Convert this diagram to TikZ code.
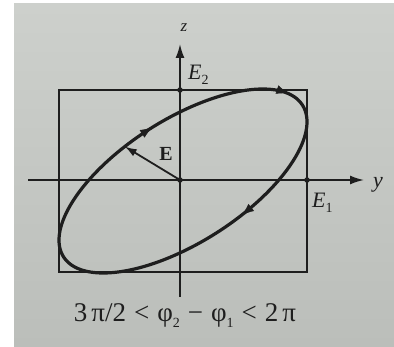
\documentclass[tikz,border=0pt]{standalone}
\usepackage{fontspec}
\setmainfont{Liberation Serif}
\usetikzlibrary{arrows.meta,calc}
\definecolor{inkc}{HTML}{1E1E1E}
\definecolor{bgtop}{HTML}{CDD0CC}
\definecolor{bgbot}{HTML}{BBBEBA}
\newcommand{\mysub}[1]{\raisebox{-0.45ex}{\fontsize{14}{14}\selectfont\upshape #1}}
\newcommand{\gap}{\hspace{8pt}}
\begin{document}
\begin{tikzpicture}[x=1pt,y=-1pt,
  axis/.style={inkc, line width=1.7pt, -{Latex[length=14pt,width=9pt]}},
  box/.style={inkc, line width=1.9pt},
  curve/.style={inkc, line width=3.2pt},
  tipmark/.style={inkc, line width=0.5pt, -{Latex[length=12pt,width=9pt]}},
  vec/.style={inkc, line width=1.8pt, -{Latex[length=12pt,width=8pt]}},
  lab/.style={text=inkc, inner sep=0pt, font=\fontsize{22}{24}\selectfont\itshape},
  dotm/.style={circle, fill=inkc, inner sep=0pt, minimum size=5.5pt}]
\useasboundingbox (0,0) rectangle (394,347);
\shade[top color=bgtop, bottom color=bgbot] (14,4) rectangle (394,347);
% axes
\coordinate (O) at (180,180);
\coordinate (yL) at (28,180);
\coordinate (yR) at (364,180);
\coordinate (zB) at (180,297);
\coordinate (zT) at (180,44);
\draw[axis] (yL) -- (yR);
\draw[axis] (zB) -- (zT);
% bounding rectangle
\coordinate (rA) at (59,90);
\coordinate (rB) at (307,272);
\draw[box] (rA) rectangle (rB);
% ellipse
\draw[curve] plot[domain=0:358, samples=180] ({183+124*cos(\x)},{181-92*cos(\x+310)}) -- cycle;
% direction marks
\coordinate (a1s) at (145.0,132.0); \coordinate (a1e) at (152.2,127.4);
\coordinate (a2s) at (248.6,209.6); \coordinate (a2e) at (241.9,215.0);
\coordinate (a3s) at (280.4,90.7);  \coordinate (a3e) at (288.4,93.4);
\draw[tipmark] (a1s) -- (a1e);
\draw[tipmark] (a2s) -- (a2e);
\draw[tipmark] (a3s) -- (a3e);
% E vector
\coordinate (pE) at ({183+124*cos(118)},{181-92*cos(428)});
\draw[vec] (O) -- (pE);
% dots
\node[dotm] (d1) at (180,90) {};
\node[dotm] (d2) at (307,180) {};
\node[dotm] (d3) at (O) {};
% labels
\node[lab, font=\fontsize{17}{19}\selectfont\itshape] (zl) at (184,28) {z};
\node[lab, anchor=base west] (E2) at (188,80) {E\mysub{2}};
\node[lab] (yl) at (378,185) {y};
\node[lab, anchor=base west] (E1) at (312,208) {E\mysub{1}};
\node[text=inkc, inner sep=0pt, font=\fontsize{20}{22}\selectfont\bfseries] (El) at (166,154) {E};
\node[text=inkc, inner sep=0pt, anchor=base, font=\fontsize{27}{29}\selectfont] (cond) at (185,322) {3\hspace{4pt}π/2\gap<\gap φ\mysub{2}\gap−\gap φ\mysub{1}\gap<\gap 2\hspace{4pt}π};
\end{tikzpicture}
\end{document}
